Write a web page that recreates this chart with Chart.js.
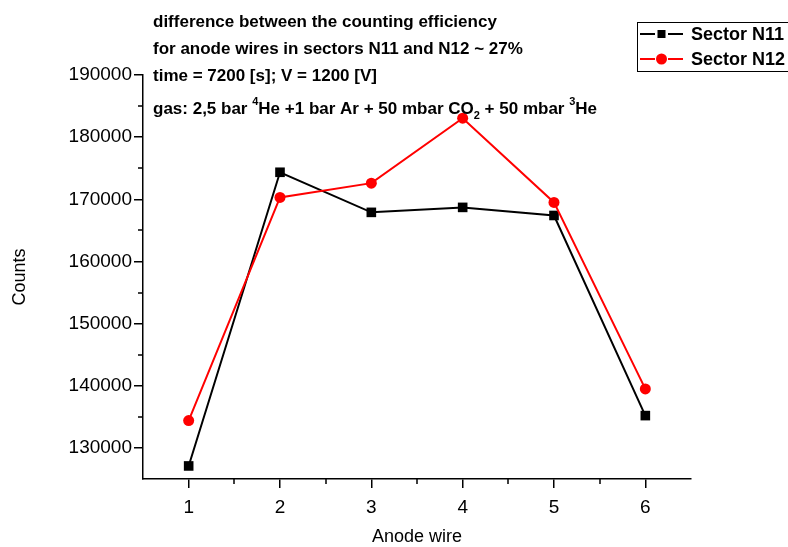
<!DOCTYPE html>
<html>
<head>
<meta charset="utf-8">
<script src="https://cdn.jsdelivr.net/npm/chart.js@4.4.1/dist/chart.umd.min.js"></script>
<style>
html,body{margin:0;padding:0;background:#fff;}
#wrap{width:788px;height:547px;position:relative;}
</style>
</head>
<body>
<div id="wrap"><canvas id="c" width="788" height="547"></canvas></div>
<script>
const anodeWires = [1, 2, 3, 4, 5, 6];
const sectorN11 = [127100, 174350, 167900, 168700, 167400, 135200];
const sectorN12 = [134400, 170300, 172600, 183050, 169500, 139500];
const xTickValues = [1, 2, 3, 4, 5, 6];
const yTickValues = [130000, 140000, 150000, 160000, 170000, 180000, 190000];
const xMinorTicks = [1.5, 2.5, 3.5, 4.5, 5.5];
const yMinorTicks = [135000, 145000, 155000, 165000, 175000, 185000];
const seriesNames = ['Sector N11', 'Sector N12'];
const xTitle = 'Anode wire';
const yTitle = 'Counts';
const titleLines = [
  'difference between the counting efficiency',
  'for anode wires in sectors N11 and N12 ~ 27%',
  'time = 7200 [s]; V = 1200 [V]'
];

const FONT = 'Arial, "Liberation Sans", sans-serif';

function pts(vals){ return anodeWires.map((x,i)=>({x:x, y:vals[i]})); }

const decor = {
  id: 'decor',
  afterDraw(chart){
    const ctx = chart.ctx;
    const xs = chart.scales.x, ys = chart.scales.y;
    ctx.save();
    // minor ticks
    ctx.strokeStyle = '#000';
    ctx.lineWidth = 1.5;
    ctx.beginPath();
    xMinorTicks.forEach(v=>{
      const px = Math.round(xs.getPixelForValue(v));
      ctx.moveTo(px, ys.bottom); ctx.lineTo(px, ys.bottom + 5);
    });
    yMinorTicks.forEach(v=>{
      const py = Math.round(ys.getPixelForValue(v));
      ctx.moveTo(xs.left, py); ctx.lineTo(xs.left - 5, py);
    });
    ctx.stroke();

    // axis titles
    ctx.fillStyle = '#000';
    ctx.font = '18px ' + FONT;
    ctx.textAlign = 'center';
    ctx.textBaseline = 'middle';
    ctx.fillText(xTitle, (xs.left + xs.right)/2, 537);
    ctx.save();
    ctx.translate(20, (ys.top + ys.bottom)/2);
    ctx.rotate(-Math.PI/2);
    ctx.fillText(yTitle, 0, 0);
    ctx.restore();

    // title text
    ctx.font = 'bold 17px ' + FONT;
    ctx.textAlign = 'left';
    ctx.textBaseline = 'alphabetic';
    const tx = 153;
    const bases = [27, 54, 81];
    titleLines.forEach((t,i)=>ctx.fillText(t, tx, bases[i]));
    // gas line with super/subscripts
    const parts = [
      ['gas: 2,5 bar ', 0], ['4', -1], ['He +1 bar Ar + 50 mbar CO', 0], ['2', 1],
      [' + 50 mbar ', 0], ['3', -1], ['He', 0]
    ];
    let x = tx; const by = 114;
    parts.forEach(([s, mode])=>{
      if (mode === 0) { ctx.font = 'bold 17px ' + FONT; ctx.fillText(s, x, by); }
      else { ctx.font = 'bold 11px ' + FONT; ctx.fillText(s, x, mode < 0 ? by - 9 : by + 5); }
      x += ctx.measureText(s).width;
    });

    // legend
    const lx = 637, ly = 22, lw = 160, lh = 49;
    ctx.fillStyle = '#fff';
    ctx.fillRect(lx, ly, lw, lh);
    ctx.strokeStyle = '#000';
    ctx.lineWidth = 1;
    ctx.strokeRect(lx + 0.5, ly + 0.5, lw, lh);
    const rows = [
      {y: 34, color: '#000', shape: 'rect', name: seriesNames[0]},
      {y: 59, color: '#ff0000', shape: 'circle', name: seriesNames[1]}
    ];
    rows.forEach(r=>{
      ctx.strokeStyle = r.color; ctx.lineWidth = 2;
      ctx.beginPath();
      ctx.moveTo(640, r.y); ctx.lineTo(655, r.y);
      ctx.moveTo(668, r.y); ctx.lineTo(683, r.y);
      ctx.stroke();
      ctx.fillStyle = r.color;
      if (r.shape === 'rect') ctx.fillRect(657.5, r.y - 4, 8, 8);
      else { ctx.beginPath(); ctx.arc(661.5, r.y, 5.5, 0, Math.PI*2); ctx.fill(); }
      ctx.fillStyle = '#000';
      ctx.font = 'bold 18px ' + FONT;
      ctx.textBaseline = 'middle';
      ctx.fillText(r.name, 691, r.y + 1);
    });
    ctx.restore();
  }
};

new Chart(document.getElementById('c'), {
  type: 'line',
  data: {
    datasets: [
      {
        label: seriesNames[0], data: pts(sectorN11),
        borderColor: '#000', backgroundColor: '#000', borderWidth: 2,
        pointStyle: 'rect', pointRadius: 6.8, pointHoverRadius: 6.8, pointBorderWidth: 0,
        tension: 0, order: 2
      },
      {
        label: seriesNames[1], data: pts(sectorN12),
        borderColor: '#ff0000', backgroundColor: '#ff0000', borderWidth: 2,
        pointStyle: 'circle', pointRadius: 5.5, pointHoverRadius: 5.5, pointBorderWidth: 0,
        tension: 0, order: 1
      }
    ]
  },
  options: {
    responsive: false,
    animation: false,
    devicePixelRatio: 1,
    layout: { padding: { left: 0, top: 75, right: 97, bottom: 0 } },
    plugins: { legend: { display: false }, tooltip: { enabled: false }, title: { display: false } },
    scales: {
      x: {
        type: 'linear', min: 0.5, max: 6.5,
        afterFit(s){ s.height = 68; },
        afterBuildTicks(s){ s.ticks = xTickValues.map(v=>({value:v})); },
        border: { display: true, color: '#000', width: 1.5 },
        grid: { display: true, drawOnChartArea: false, drawTicks: true, tickLength: 9, color: '#000', lineWidth: 1.5 },
        ticks: { color: '#000', padding: 8, autoSkip: false,
                 font: { family: FONT, size: 19 }, maxRotation: 0, callback: v => String(v) }
      },
      y: {
        type: 'linear', min: 125000, max: 190000,
        afterFit(s){ s.width = 143; },
        afterBuildTicks(s){ s.ticks = yTickValues.map(v=>({value:v})); },
        border: { display: true, color: '#000', width: 1.5 },
        grid: { display: true, drawOnChartArea: false, drawTicks: true, tickLength: 9, color: '#000', lineWidth: 1.5 },
        ticks: { color: '#000', padding: 2, autoSkip: false,
                 font: { family: FONT, size: 19 }, callback: v => String(v) }
      }
    }
  },
  plugins: [decor]
});
</script>
</body>
</html>
